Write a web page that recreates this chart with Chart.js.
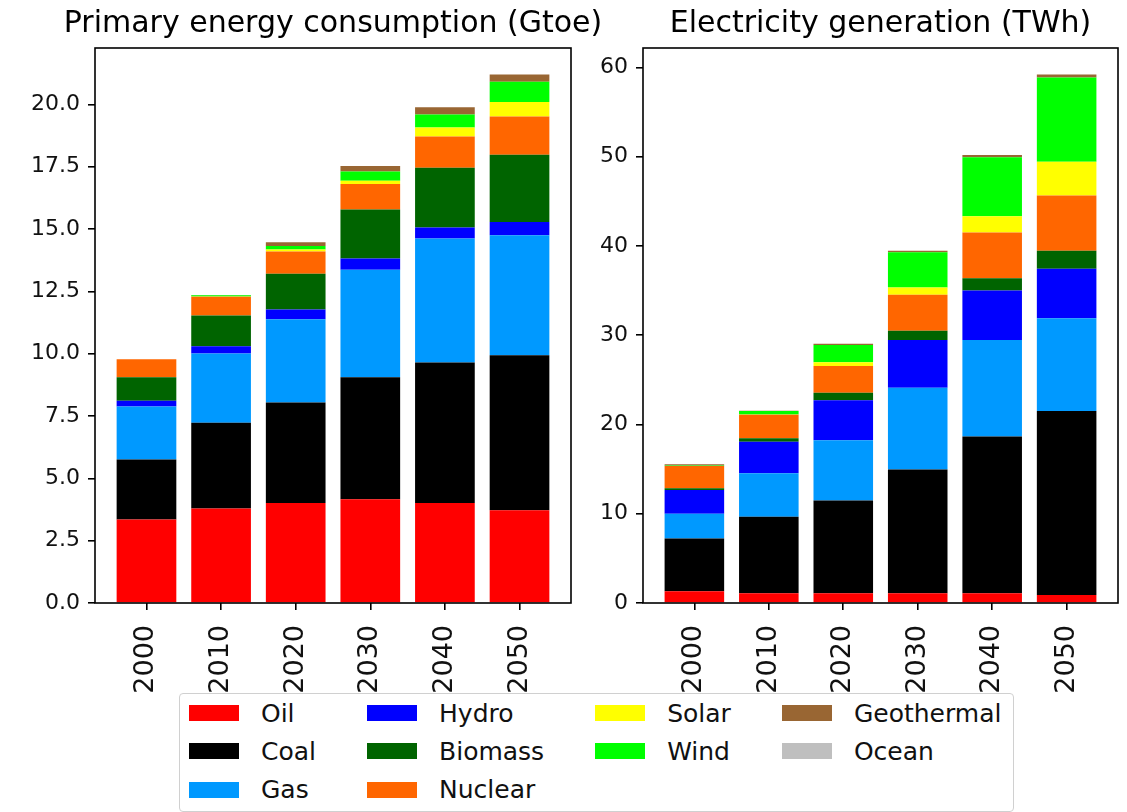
<!DOCTYPE html>
<html>
<head>
<meta charset="utf-8">
<script src="https://cdn.jsdelivr.net/npm/chart.js@4"></script>
<style>
  body { margin: 0; background: #fff; font-family: "DejaVu Sans", sans-serif; }
  #wrap { position: relative; width: 1127px; height: 812px; overflow: hidden; }
  canvas { position: absolute; top: 0; }
  #energy { left: 0; }
  #power { left: 583px; }
  #legend {
    position: absolute; left: 179px; top: 693px;
    border: 1px solid #d0d0d0; border-radius: 4px; background: #fff;
    display: grid; grid-template-rows: repeat(3, 38.3px);
    column-gap: 51px; padding: 0 12px 2px 9px;
    font-size: 25px; color: #111;
  }
  .item { display: flex; align-items: center; white-space: nowrap; }
  .sw { width: 50px; height: 16px; margin-right: 22px; }
</style>
</head>
<body>
<div id="wrap">
  <canvas id="energy" width="640" height="712"></canvas>
  <canvas id="power" width="544" height="712"></canvas>
  <div id="legend"></div>
</div>
<script>
var years = ['2000', '2010', '2020', '2030', '2040', '2050'];
var sources = ['Oil', 'Coal', 'Gas', 'Hydro', 'Biomass', 'Nuclear', 'Solar', 'Wind', 'Geothermal', 'Ocean'];
var colors = ['#ff0000', '#000000', '#0099ff', '#0000ff', '#006400', '#ff6600', '#ffff00', '#00ff00', '#996633', '#bfbfbf'];

// primary energy consumption, Gtoe
var peOil        = [3.35, 3.79, 4.01, 4.16, 4.01, 3.72];
var peCoal       = [2.41, 3.44, 4.03, 4.89, 5.64, 6.22];
var peGas        = [2.12, 2.78, 3.34, 4.32, 4.97, 4.81];
var peHydro      = [0.23, 0.29, 0.39, 0.45, 0.44, 0.53];
var peBiomass    = [0.94, 1.23, 1.44, 1.96, 2.40, 2.70];
var peNuclear    = [0.73, 0.75, 0.89, 1.03, 1.25, 1.53];
var peSolar      = [0.00, 0.01, 0.08, 0.13, 0.36, 0.58];
var peWind       = [0.00, 0.05, 0.14, 0.37, 0.52, 0.82];
var peGeothermal = [0.00, 0.01, 0.15, 0.22, 0.29, 0.29];
var peOcean      = [0, 0, 0, 0, 0, 0];

// electricity generation, TWh
var elOil        = [1.31, 1.08, 1.08, 1.08, 1.08, 0.89];
var elCoal       = [5.92, 8.58, 10.40, 13.87, 17.56, 20.62];
var elGas        = [2.76, 4.88, 6.75, 9.17, 10.81, 10.40];
var elHydro      = [2.68, 3.51, 4.48, 5.33, 5.56, 5.53];
var elBiomass    = [0.19, 0.41, 0.85, 1.05, 1.38, 2.01];
var elNuclear    = [2.50, 2.64, 2.99, 4.03, 5.11, 6.19];
var elSolar      = [0.00, 0.02, 0.41, 0.82, 1.82, 3.80];
var elWind       = [0.03, 0.38, 1.93, 3.95, 6.60, 9.43];
var elGeothermal = [0.14, 0.03, 0.15, 0.15, 0.27, 0.34];
var elOcean      = [0, 0, 0, 0, 0, 0];

var peSeries = [peOil, peCoal, peGas, peHydro, peBiomass, peNuclear, peSolar, peWind, peGeothermal, peOcean];
var elSeries = [elOil, elCoal, elGas, elHydro, elBiomass, elNuclear, elSolar, elWind, elGeothermal, elOcean];

var FONT = 'DejaVu Sans';
var barWidth = 0.8;

// box around the plot area, like axes spines
var frame = {
  id: 'frame',
  afterDraw: function(chart) {
    var a = chart.chartArea, ctx = chart.ctx;
    ctx.save();
    ctx.strokeStyle = '#000';
    ctx.lineWidth = 1.6;
    ctx.strokeRect(a.left, a.top, a.right - a.left, a.bottom - a.top);
    ctx.restore();
  }
};

// title centred over the plot area, allowed to run past its edges
var axesTitle = {
  id: 'axesTitle',
  afterDraw: function(chart, args, opts) {
    var a = chart.chartArea, ctx = chart.ctx;
    ctx.save();
    ctx.fillStyle = '#000';
    ctx.font = '30px "' + FONT + '"';
    ctx.textAlign = 'center';
    ctx.textBaseline = 'middle';
    ctx.fillText(opts.text, (a.left + a.right) / 2, opts.y);
    ctx.restore();
  }
};

function makeChart(id, title, series, axisWidth, rightPad, fmt, step) {
  var totals = years.map(function(y, i) {
    return series.reduce(function(s, arr) { return s + arr[i]; }, 0);
  });
  var ymax = Math.max.apply(null, totals) * 1.05;
  var span = years.length - 1 + barWidth;
  var xmin = -barWidth / 2 - 0.05 * span;
  var xmax = years.length - 1 + barWidth / 2 + 0.05 * span;

  var datasets = series.map(function(arr, k) {
    return {
      label: sources[k],
      data: arr.map(function(v, i) { return { x: i, y: v }; }),
      backgroundColor: colors[k],
      borderWidth: 0,
      barPercentage: barWidth,
      categoryPercentage: 1.0
    };
  });

  return new Chart(document.getElementById(id), {
    type: 'bar',
    data: { datasets: datasets },
    plugins: [frame, axesTitle],
    options: {
      responsive: false,
      animation: false,
      layout: { padding: { left: 0, right: rightPad, top: 48, bottom: 0 } },
      plugins: {
        legend: { display: false },
        tooltip: { enabled: false },
        title: { display: false },
        axesTitle: { text: title, y: 24 }
      },
      scales: {
        x: {
          type: 'linear',
          stacked: true,
          offset: false,
          min: xmin,
          max: xmax,
          afterBuildTicks: function(s) {
            s.ticks = years.map(function(y, i) { return { value: i }; });
          },
          afterFit: function(s) { s.height = 712 - 603; },
          grid: { offset: false, drawOnChartArea: false, drawTicks: true, tickLength: 7, color: '#000', lineWidth: 1.6 },
          border: { display: false },
          ticks: {
            autoSkip: false,
            minRotation: 90,
            maxRotation: 90,
            padding: 15,
            color: '#111',
            font: { family: FONT, size: 27 },
            callback: function(v) { return years[v]; }
          }
        },
        y: {
          stacked: true,
          min: 0,
          max: ymax,
          afterFit: function(s) { s.width = axisWidth; },
          afterBuildTicks: function(s) {
            var t = [];
            for (var v = 0; v <= ymax; v += step) t.push({ value: v });
            s.ticks = t;
          },
          grid: { drawOnChartArea: false, drawTicks: true, tickLength: 7, color: '#000', lineWidth: 1.6 },
          border: { display: false },
          ticks: {
            padding: 8,
            color: '#111',
            font: { family: FONT, size: 22 },
            callback: function(v) { return v.toFixed(fmt); }
          }
        }
      }
    }
  });
}

makeChart('energy', 'Primary energy consumption (Gtoe)', peSeries, 95, 640 - 571, 1, 2.5);
makeChart('power', 'Electricity generation (TWh)', elSeries, 60, 9, 0, 10);

// shared legend in 4 columns, extra entries go to the first columns
var legend = document.getElementById('legend');
var ncol = 4;
var perCol = Math.floor(sources.length / ncol);
var extra = sources.length % ncol;
var col = 0, row = 0;
sources.forEach(function(name, k) {
  var item = document.createElement('div');
  item.className = 'item';
  item.style.gridColumn = col + 1;
  item.style.gridRow = row + 1;
  var sw = document.createElement('span');
  sw.className = 'sw';
  sw.style.background = colors[k];
  item.appendChild(sw);
  item.appendChild(document.createTextNode(name));
  legend.appendChild(item);
  row++;
  if (row >= perCol + (col < extra ? 1 : 0)) { row = 0; col++; }
});
</script>
</body>
</html>
